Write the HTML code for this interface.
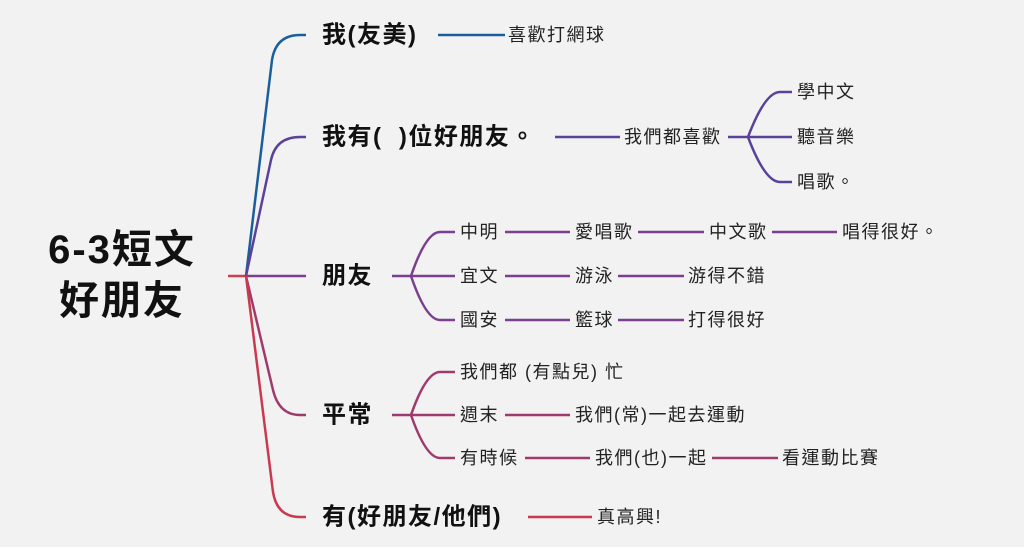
<!DOCTYPE html>
<html><head><meta charset="utf-8"><style>
html,body{margin:0;padding:0;background:#f2f2f2;}
svg{display:block;}
text{font-family:"Liberation Sans","Noto Sans CJK TC",sans-serif;fill:#111;dominant-baseline:central;}
.b{font-weight:bold;font-size:24px;letter-spacing:1.5px;}
.n{font-size:18px;fill:#222;letter-spacing:1.5px;}
.r{font-weight:bold;font-size:40px;letter-spacing:2px;}
path,line{fill:none;stroke-width:2.5;}
</style></head><body>
<svg width="1024" height="547" viewBox="0 0 1024 547" xmlns="http://www.w3.org/2000/svg">
<rect width="1024" height="547" fill="#f2f2f2"/>
<text class="r" x="122" y="250" text-anchor="middle">6-3短文</text>
<text class="r" x="122" y="301" text-anchor="middle">好朋友</text>
<line x1="228" y1="276" x2="246" y2="276" stroke="#cf3d4f"/>
<path d="M246 276 L272 60 Q276 35 300 35 L306 35" stroke="#1a5e9c"/>
<path d="M246 276 L271 160 Q276 137 300 137 L306 137" stroke="#5a4199"/>
<path d="M246 276 L306 276" stroke="#7b3f8f"/>
<path d="M246 276 L273 390 Q279 415 300 415 L306 415" stroke="#9f3a6c"/>
<path d="M246 276 L273 492 Q277 517 300 517 L306 517" stroke="#c93a4f"/>
<text class="b" x="322" y="35">我(友美)</text>
<line x1="438" y1="35" x2="505" y2="35" stroke="#1a5e9c"/>
<text class="n" x="508" y="35">喜歡打網球</text>
<text class="b" x="322" y="137">我有(&#160;&#160;)位好朋友。</text>
<line x1="555" y1="137" x2="620" y2="137" stroke="#5a4199"/>
<text class="n" x="624" y="137">我們都喜歡</text>
<g stroke="#5a4199">
<line x1="728" y1="137" x2="792" y2="137"/>
<path d="M748 137 Q765 92 780 92 L792 92"/>
<path d="M748 137 Q765 182 780 182 L792 182"/>
</g>
<text class="n" x="797" y="92">學中文</text>
<text class="n" x="797" y="137">聽音樂</text>
<text class="n" x="797" y="182">唱歌。</text>
<text class="b" x="322" y="276">朋友</text>
<g stroke="#7b3f8f">
<line x1="392" y1="276" x2="455" y2="276"/>
<path d="M411 276 Q426 232 440 232 L455 232"/>
<path d="M411 276 Q426 320 440 320 L455 320"/>
<line x1="505" y1="232" x2="570" y2="232"/>
<line x1="638" y1="232" x2="704" y2="232"/>
<line x1="772" y1="232" x2="837" y2="232"/>
<line x1="505" y1="276" x2="570" y2="276"/>
<line x1="618" y1="276" x2="684" y2="276"/>
<line x1="505" y1="320" x2="570" y2="320"/>
<line x1="618" y1="320" x2="684" y2="320"/>
</g>
<text class="n" x="460" y="232">中明</text>
<text class="n" x="575" y="232">愛唱歌</text>
<text class="n" x="709" y="232">中文歌</text>
<text class="n" x="842" y="232">唱得很好。</text>
<text class="n" x="460" y="276">宜文</text>
<text class="n" x="575" y="276">游泳</text>
<text class="n" x="688" y="276">游得不錯</text>
<text class="n" x="460" y="320">國安</text>
<text class="n" x="575" y="320">籃球</text>
<text class="n" x="688" y="320">打得很好</text>
<text class="b" x="322" y="415">平常</text>
<g stroke="#9f3a6c">
<line x1="392" y1="415" x2="455" y2="415"/>
<path d="M411 415 Q426 372 440 372 L455 372"/>
<path d="M411 415 Q426 458 440 458 L455 458"/>
<line x1="505" y1="415" x2="570" y2="415"/>
<line x1="525" y1="458" x2="590" y2="458"/>
<line x1="712" y1="458" x2="778" y2="458"/>
</g>
<text class="n" x="460" y="372">我們都 (有點兒) 忙</text>
<text class="n" x="460" y="415">週末</text>
<text class="n" x="575" y="415">我們(常)一起去運動</text>
<text class="n" x="460" y="458">有時候</text>
<text class="n" x="595" y="458">我們(也)一起</text>
<text class="n" x="782" y="458">看運動比賽</text>
<text class="b" x="322" y="517">有(好朋友/他們)</text>
<line x1="528" y1="517" x2="592" y2="517" stroke="#c93a4f"/>
<text class="n" x="597" y="517">真高興!</text>
</svg>
</body></html>
